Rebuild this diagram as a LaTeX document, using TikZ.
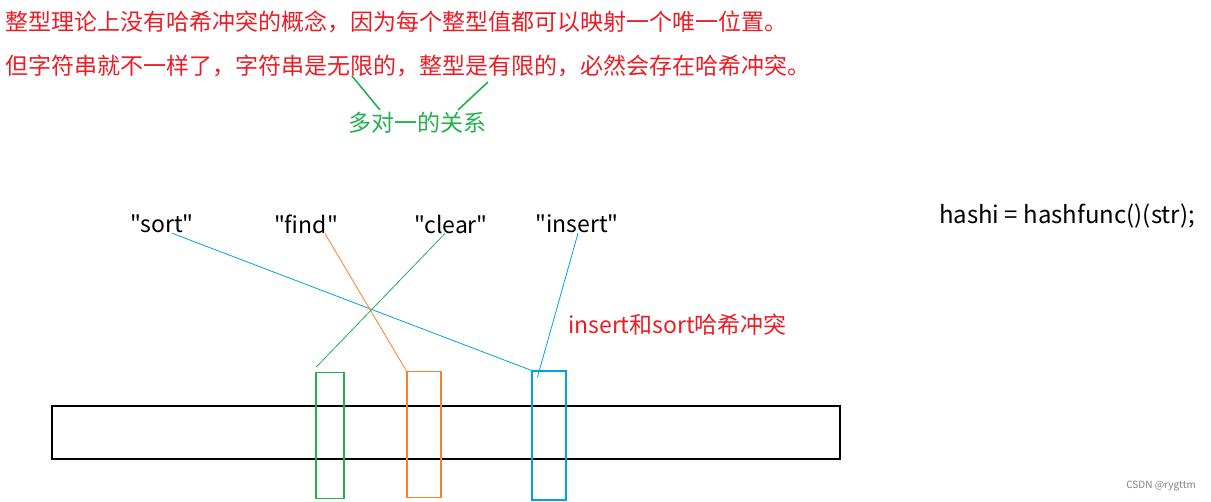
\documentclass[tikz,border=0pt]{standalone}
\usepackage{fontspec}
\setmainfont{Noto Sans CJK SC}[Ligatures=TeXOff]
\usepackage{tikz}
\definecolor{paintred}{RGB}{237,28,36}
\definecolor{paintgreen}{RGB}{34,177,76}
\definecolor{paintorange}{RGB}{255,127,39}
\definecolor{paintblue}{RGB}{0,162,232}

\begin{document}
\begin{tikzpicture}[x=1pt,y=-1pt,
	txt/.style={inner sep=0pt, font=\fontsize{23}{28}\selectfont},
	slot/.style={draw, line width=1.2pt, minimum width=#1, minimum height=126pt, inner sep=0pt},
	link/.style={line width=0.8pt}]
		\useasboundingbox (0,0) rectangle (1211,502);
		
		% red notes on top
		\node[txt, paintred, anchor=west] (note1) at (5,22) {整型理论上没有哈希冲突的概念，因为每个整型值都可以映射一个唯一位置。};
		\node[txt, paintred, anchor=west] (note2) at (5,66) {但字符串就不一样了，字符串是无限的，整型是有限的，必然会存在哈希冲突。};
		\node[txt, paintgreen, anchor=north west] (rel) at (348,112) {多对一的关系};
		\draw[paintgreen, line width=1.6pt] ([shift={(4,-36)}]rel.north west) -- ([shift={(32,-2)}]rel.north west);
		\draw[paintgreen, line width=1.6pt] ([shift={(140,-30)}]rel.north west) -- ([shift={(110,-2)}]rel.north west);
		
		% keys
		\node[txt] (sort) at (162,224) {"sort"};
		\node[txt] (find) at (306,224) {"find"};
		\node[txt] (clear) at (451,224) {"clear"};
		\node[txt] (insert) at (577,224) {"insert"};
		\node[txt, font=\fontsize{24}{28}\selectfont] (func) at (1067,216) {hashi = hashfunc()(str);};
		
		% table and slots
		\draw[line width=1.2pt] (52,406) rectangle (840,459);
		\node[slot=28pt, paintgreen] (gslot) at (330,435.5) {};
		\node[slot=34pt, paintorange] (oslot) at (424,434.5) {};
		\node[slot=34pt, paintblue, minimum height=129pt] (bslot) at (549,435.5) {};
		
		\draw[link, paintblue] ([xshift=10]sort.south) -- (bslot.north west);
		\draw[link, paintorange] ([xshift=19]find.south) -- (oslot.north west);
		\draw[link, paintgreen] ([xshift=-6]clear.south) -- ([shift={(1,-5)}]gslot.north west);
		\draw[link, paintblue] ([xshift=1]insert.south) -- ([shift={(6,7)}]bslot.north west);
		
		\node[txt, paintred, anchor=west] (clash) at (568,325) {insert和sort哈希冲突};
		\node[inner sep=0pt, gray, font=\fontsize{10}{12}\selectfont, anchor=east] (mark) at (1196,486) {CSDN @rygttm};
	\end{tikzpicture}
\end{document}
